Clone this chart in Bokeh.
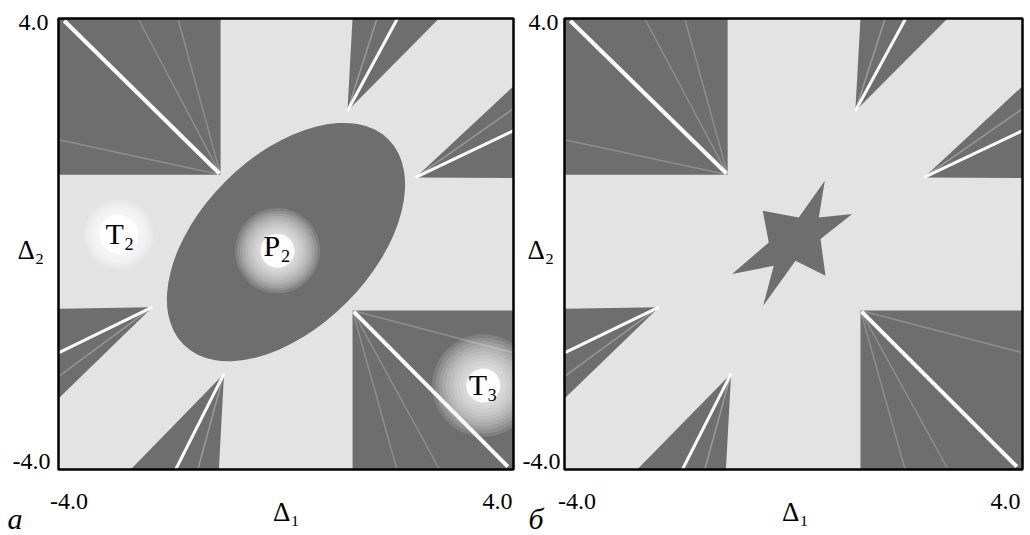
import numpy as np
from bokeh.plotting import figure
from bokeh.layouts import row
from bokeh.models import Range1d
from bokeh.core.properties import value
from bokeh.embed import file_html
from bokeh.resources import INLINE

# ---------------- data ----------------
d_min, d_max = -4.0, 4.0
tick_values = [-4.0, 4.0]
tick_labels = ["-4.0", "4.0"]
x_title = "Δ₁"
y_title = "Δ₂"
panel_letters = ["а", "б"]

# dark corner blocks
block_left = [-4.0, 1.17]
block_right = [-1.15, 4.0]
block_bottom = [1.23, -4.0]
block_top = [4.0, -1.18]

# white diagonals through the blocks
diag_x0 = [-3.90, 1.19]
diag_y0 = [3.96, -1.20]
diag_x1 = [-1.17, 3.90]
diag_y1 = [1.25, -3.95]

# faint fan lines in the blocks
fan_x0 = [-1.15, -1.15, -1.15, 1.17, 1.17, 1.17]
fan_y0 = [1.23, 1.23, 1.23, -1.18, -1.18, -1.18]
fan_x1 = [-1.90, -4.00, -2.60, 1.95, 4.00, 2.70]
fan_y1 = [4.00, 1.85, 4.00, -4.00, -1.93, -4.00]

# dark wedges: apex and two corners on the frame edge
wedge_apex_x = [1.08, 2.28, -2.35, -1.09]
wedge_apex_y = [2.36, 1.18, -1.12, -2.30]
wedge_a_x = [1.17, 4.00, -4.00, -1.18]
wedge_a_y = [4.00, 1.17, -1.15, -4.00]
wedge_b_x = [2.69, 4.00, -4.00, -2.73]
wedge_b_y = [4.00, 2.80, -2.74, -4.00]
ray_x = [1.96, 4.00, -4.00, -1.94]
ray_y = [4.00, 2.01, -1.93, -4.00]
faint_x = [1.60, 4.00, -4.00, -1.55]
faint_y = [4.00, 2.40, -2.35, -4.00]

# central region of panel а: ellipse
ell_x = [0.0]
ell_y = [0.035]
ell_w = [5.10]
ell_h = [3.04]
ell_angle_deg = [45.0]

# central region of panel б: six-pointed star
star_x = [-0.537, 0.092, 0.547, 0.442, 1.026, 0.472, 0.559, 0.035, -0.530, -0.345, -1.072, -0.432]
star_y = [0.589, 0.471, 1.121, 0.471, 0.531, 0.088, -0.562, -0.297, -1.094, -0.385, -0.532, 0.028]

# region labels of panel а
region_text = ["T₂", "P₂", "T₃"]
region_x = [-3.174, -0.396, 3.214]
region_y = [0.186, -0.027, -2.492]
halo_x = [-2.94, -0.15, 3.47]
halo_y = [0.17, -0.12, -2.51]
halo_core = [0.34, 0.30, 0.30]
halo_outer = [0.62, 0.75, 0.90]

# ---------------- style / layout ----------------
DARK = "#6e6e6e"
LIGHT = "#e3e3e3"
WHITE = "#fbfbfb"
FONT = "Liberation Serif"
H = 535
TOP_B, BOT_B = 18, 66


def build_panel(width, b_left, b_right, center, letter, offs):
    # the plotting frame spans the whole figure; data square [-4,4] is placed
    # at the requested pixel borders, the margins hold the labels
    ppx = (width - b_left - b_right) / (d_max - d_min)
    ppy = (H - TOP_B - BOT_B) / (d_max - d_min)
    xr = Range1d(d_min - b_left / ppx, d_max + b_right / ppx)
    yr = Range1d(d_min - BOT_B / ppy, d_max + TOP_B / ppy)
    p = figure(width=width, height=H, x_range=xr, y_range=yr,
               output_backend="svg", toolbar_location=None, title=None,
               x_axis_location=None, y_axis_location=None, min_border=0)
    p.min_border_left = p.min_border_right = 0
    p.min_border_top = p.min_border_bottom = 0
    p.grid.visible = False
    p.background_fill_color = "white"
    p.border_fill_color = "white"
    p.outline_line_color = None

    # plotting area background
    p.quad(left=[d_min], right=[d_max], bottom=[d_min], top=[d_max],
           fill_color=LIGHT, line_color=None)

    p.quad(left=block_left, right=block_right, bottom=block_bottom, top=block_top,
           fill_color=DARK, line_color=None)
    p.segment(x0=fan_x0, y0=fan_y0, x1=fan_x1, y1=fan_y1,
              line_color="#c8c8c8", line_alpha=0.35, line_width=1.5)
    p.segment(x0=diag_x0, y0=diag_y0, x1=diag_x1, y1=diag_y1,
              line_color=WHITE, line_width=4)

    wx = [[ax, a, b] for ax, a, b in zip(wedge_apex_x, wedge_a_x, wedge_b_x)]
    wy = [[ay, a, b] for ay, a, b in zip(wedge_apex_y, wedge_a_y, wedge_b_y)]
    p.patches(wx, wy, fill_color=DARK, line_color=None)
    p.segment(x0=wedge_apex_x, y0=wedge_apex_y, x1=faint_x, y1=faint_y,
              line_color="#cfcfcf", line_alpha=0.45, line_width=1.5)
    p.segment(x0=wedge_apex_x, y0=wedge_apex_y, x1=ray_x, y1=ray_y,
              line_color=WHITE, line_width=3)

    if center == "ellipse":
        p.ellipse(x=ell_x, y=ell_y, width=ell_w, height=ell_h,
                  angle=[np.deg2rad(a) for a in ell_angle_deg],
                  fill_color=DARK, line_color=None)
        steps = 10
        for k in range(steps + 1):
            t = k / steps
            radii = [o + (c - o) * t for o, c in zip(halo_outer, halo_core)]
            alpha = 0.13 if k < steps else 0.95
            p.circle(x=halo_x, y=halo_y, radius=radii,
                     fill_color="white", fill_alpha=alpha, line_color=None)
    else:
        p.patch(star_x, star_y, fill_color=DARK, line_color=None)

    # white margins outside the data square (clip the halos)
    p.quad(left=[xr.start, d_max, d_min, d_min], right=[d_min, xr.end, d_max, d_max],
           bottom=[yr.start, yr.start, yr.start, d_max],
           top=[yr.end, yr.end, d_min, yr.end],
           fill_color="white", line_color=None)

    # frame of the data square
    p.quad(left=[d_min], right=[d_max], bottom=[d_min], top=[d_max],
           fill_color=None, line_color="black", line_width=2.5)

    if center == "ellipse":
        p.text(x=region_x, y=region_y, text=region_text,
               text_font=value(FONT), text_font_size="30px",
               text_align="left", text_baseline="middle", text_color="black")

    def lab(x, y, text, dx, dy, align, size="24px", style="normal"):
        p.text(x=[x], y=[y], text=[text], x_offset=dx, y_offset=dy,
               text_align=align, text_baseline="middle",
               text_font=value(FONT), text_font_size=size,
               text_font_style=style, text_color="black")

    # y tick labels (left of the frame)
    lab(d_min, tick_values[1], tick_labels[1], offs["ytop"], 4, "right")
    lab(d_min, tick_values[0], tick_labels[0], offs["ybot"], -8, "right")
    # x tick labels (below the frame)
    lab(tick_values[0], d_min, tick_labels[0], offs["xl"], 32, "center")
    lab(tick_values[1], d_min, tick_labels[1], offs["xr"], 32, "right")
    # axis titles
    lab(0.0, d_min, x_title, offs["t1"], 42.5, "center", "27px")
    lab(d_min, 0.0, y_title, offs["t2"], 6, "left", "27px")
    # panel letter
    lab(d_min, d_min, letter, offs["let"], offs["let_y"], "left", "30px", "italic")
    return p


p1 = build_panel(518, 58, 5, "ellipse", panel_letters[0],
                 dict(ytop=-10, ybot=-8, xl=10.5, xr=-1, t1=0.5, t2=-41, let=-51, let_y=49))
p2 = build_panel(508, 46, 4, "star", panel_letters[1],
                 dict(ytop=-6, ybot=-4, xl=12.5, xr=-2, t1=2, t2=-37, let=-36, let_y=49))

layout = row(p1, p2)
open("out.html", "w").write(file_html(layout, INLINE))
